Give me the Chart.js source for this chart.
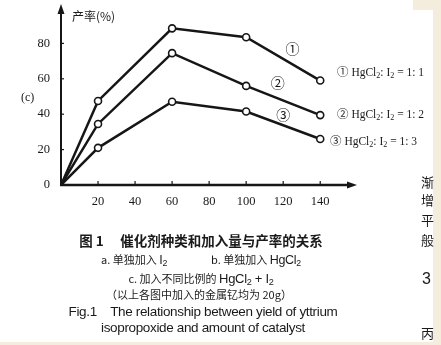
<!DOCTYPE html>
<html>
<head>
<meta charset="utf-8">
<script src="https://cdn.jsdelivr.net/npm/chart.js@4/dist/chart.umd.min.js"></script>
<style>
  html,body{margin:0;padding:0;background:#fff;}
  body{width:441px;height:345px;position:relative;overflow:hidden;}
  canvas{position:absolute;left:0;top:0;}
  .t{position:absolute;white-space:nowrap;color:#1a1a1a;line-height:1;}
  .serif{font-family:"Liberation Serif","DejaVu Serif",serif;}
  .sans{font-family:"Liberation Sans",Arial,sans-serif;}
  .cjk{font-family:"Noto Sans CJK SC","Liberation Sans",sans-serif;}
  .cap{position:absolute;left:0;width:402px;text-align:center;white-space:nowrap;color:#1a1a1a;line-height:1;}
  .lat{font-family:"Liberation Sans",Arial,sans-serif;letter-spacing:-0.3px;font-size:12.5px;}
  sub{font-size:70%;vertical-align:-2px;line-height:0;}
</style>
</head>
<body>
<div style="position:absolute;left:413px;top:0;width:28px;height:10px;background:#f4ecdd;"></div>
<div style="position:absolute;left:433px;top:0;width:8px;height:345px;background:#f4ecdd;"></div>
<div style="position:absolute;left:0;top:342px;width:441px;height:3px;background:#f4ecdd;"></div>
<canvas id="c" width="441" height="345"></canvas>

<div class="t cjk" style="left:72px;top:10px;font-size:12px;">产率(%)</div>
<div class="t serif" style="left:21px;top:91px;font-size:12px;">(c)</div>

<div class="t serif" style="left:337px;top:66px;font-size:11.5px;"><span class="cjk">①</span> HgCl<sub>2</sub>: I<sub>2</sub> = 1: 1</div>
<div class="t serif" style="left:337px;top:108px;font-size:11.5px;"><span class="cjk">②</span> HgCl<sub>2</sub>: I<sub>2</sub> = 1: 2</div>
<div class="t serif" style="left:330px;top:135px;font-size:11.5px;"><span class="cjk">③</span> HgCl<sub>2</sub>: I<sub>2</sub> = 1: 3</div>

<div class="cap cjk" style="top:234px;font-size:13.5px;font-weight:bold;">图 1　 催化剂种类和加入量与产率的关系</div>
<div class="cap cjk" style="top:254px;font-size:11px;">a. 单独加入 <span class="lat">I<sub>2</sub></span>　　　　b. 单独加入 <span class="lat">HgCl<sub>2</sub></span></div>
<div class="cap cjk" style="top:272px;font-size:11px;">c. 加入不同比例的 <span class="lat" style="font-size:13px;">HgCl<sub>2</sub> + I<sub>2</sub></span></div>
<div class="cap cjk" style="top:289px;font-size:11px;left:-2px;">（以上各图中加入的金属钇均为 20g）</div>
<div class="cap sans" style="top:305px;font-size:13.5px;left:2px;letter-spacing:-0.35px;">Fig.1 &nbsp;&nbsp; The relationship between yield of yttrium</div>
<div class="cap sans" style="top:321px;font-size:13.5px;left:2px;letter-spacing:-0.35px;">isopropoxide and amount of catalyst</div>

<div class="t cjk" style="left:421px;top:175px;font-size:13px;">渐</div>
<div class="t cjk" style="left:421px;top:193px;font-size:13px;">增</div>
<div class="t cjk" style="left:421px;top:213px;font-size:13px;">平</div>
<div class="t cjk" style="left:421px;top:233px;font-size:13px;">般</div>
<div class="t sans" style="left:422px;top:271px;font-size:16px;">3</div>
<div class="t cjk" style="left:421px;top:326px;font-size:13px;">丙</div>

<script>
// catalyst amount (x) and yield (%) for each HgCl2:I2 ratio
const xValues = [0, 20, 60, 100, 140];
const series1 = [0, 47.5, 88.5, 83.5, 59];
const series2 = [0, 34.5, 74.5, 56, 39.5];
const series3 = [0, 21, 47, 41.5, 26];
const xTicks = [20, 40, 60, 80, 100, 120, 140];
const yTicks = [0, 20, 40, 60, 80];
const seriesMarks = ['①', '②', '③'];

const INK = '#161616';
const toPts = arr => arr.map((v, i) => ({x: xValues[i], y: v}));
const mkSet = (arr) => ({
  data: toPts(arr),
  borderColor: INK,
  borderWidth: 2.5,
  backgroundColor: '#fff',
  pointBackgroundColor: '#fff',
  pointBorderColor: INK,
  pointBorderWidth: 1.6,
  pointRadius: ctx => ctx.dataIndex === 0 ? 0 : 3.5,
  tension: 0
});

const decor = {
  id: 'decor',
  afterDraw(chart) {
    const {ctx, scales: {x, y}} = chart;
    const x0 = x.getPixelForValue(0), y0 = y.getPixelForValue(0);
    const yTop = y.getPixelForValue(100), xEnd = x.getPixelForValue(155);
    ctx.save();
    ctx.strokeStyle = INK; ctx.fillStyle = INK;
    // y axis
    ctx.lineWidth = 2;
    ctx.beginPath(); ctx.moveTo(x0, y0 + 1); ctx.lineTo(x0, yTop + 4); ctx.stroke();
    ctx.beginPath(); ctx.moveTo(x0, yTop - 4); ctx.lineTo(x0 - 3.5, yTop + 6); ctx.lineTo(x0 + 3.5, yTop + 6); ctx.closePath(); ctx.fill();
    // x axis
    ctx.lineWidth = 2.6;
    ctx.beginPath(); ctx.moveTo(x0 - 1, y0); ctx.lineTo(xEnd + 2, y0); ctx.stroke();
    ctx.beginPath(); ctx.moveTo(xEnd + 9, y0); ctx.lineTo(xEnd - 1, y0 - 3.5); ctx.lineTo(xEnd - 1, y0 + 3.5); ctx.closePath(); ctx.fill();
    // small tick marks
    ctx.lineWidth = 1.2;
    xTicks.forEach(v => { const px = x.getPixelForValue(v); ctx.beginPath(); ctx.moveTo(px, y0); ctx.lineTo(px, y0 - 4); ctx.stroke(); });
    yTicks.slice(1).forEach(v => { const py = y.getPixelForValue(v); ctx.beginPath(); ctx.moveTo(x0, py); ctx.lineTo(x0 + 3, py); ctx.stroke(); });
    // circled series marks near lines
    ctx.font = '14px "Noto Sans CJK SC", sans-serif';
    ctx.textAlign = 'center'; ctx.textBaseline = 'middle';
    const pos = [[125, 77], [117, 58], [120, 40]];
    seriesMarks.forEach((m, i) => ctx.fillText(m, x.getPixelForValue(pos[i][0]), y.getPixelForValue(pos[i][1])));
    ctx.restore();
  }
};

new Chart(document.getElementById('c'), {
  type: 'line',
  data: {datasets: [mkSet(series1), mkSet(series2), mkSet(series3)]},
  options: {
    responsive: false,
    animation: false,
    devicePixelRatio: 1,
    layout: {padding: {left: 0, top: 8, right: 93, bottom: 0}},
    plugins: {legend: {display: false}, tooltip: {enabled: false}},
    scales: {
      x: {
        type: 'linear', min: 0, max: 155,
        afterFit: s => { s.height = 160; s.paddingLeft = 0; s.paddingRight = 0; },
        afterBuildTicks: s => { s.ticks = xTicks.map(v => ({value: v})); },
        grid: {display: false, drawTicks: false},
        border: {display: false},
        ticks: {padding: 9, color: '#1a1a1a', font: {family: '"Liberation Serif", serif', size: 12.5}}
      },
      y: {
        min: 0, max: 100,
        afterFit: s => { s.width = 61; s.paddingTop = 0; s.paddingBottom = 0; },
        afterBuildTicks: s => { s.ticks = yTicks.map(v => ({value: v})); },
        grid: {display: false, drawTicks: false},
        border: {display: false},
        ticks: {padding: 11, color: '#1a1a1a', font: {family: '"Liberation Serif", serif', size: 12.5}}
      }
    }
  },
  plugins: [decor]
});
</script>
</body>
</html>
